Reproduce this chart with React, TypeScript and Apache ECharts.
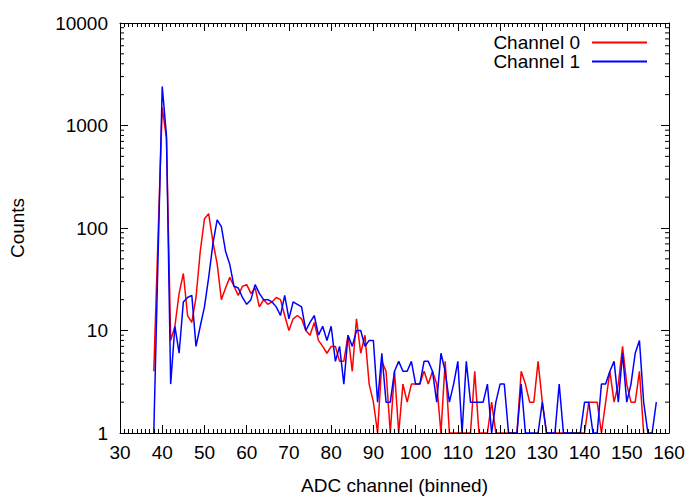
import React, { useEffect, useRef } from "react";
import * as echarts from "echarts";

// First ADC bin shown in both series
const binStart = 38;

// Channel 0 (red): counts for bins 38..154
const channel0: number[] = [
  4, 80, 1500, 750,
  8, 11, 23, 36, 14, 12, 21, 59, 123, 138,
  73, 45, 20, 26, 33, 27, 22, 27, 28, 23,
  26, 17, 20, 18, 19, 21, 20, 14, 10, 13,
  14, 13, 10, 9, 12, 8, 7, 6, 7, 7,
  5, 5, 9, 4, 13, 6, 9, 3, 2, 1,
  5, 4, 1, 4, 1, 3, 2, 3, 3, 3,
  4, 3, 4, 3, 1, 5, 1, 1, 1, 1,
  1, 1, 4, 1, 1, 1, 2, 1, 1, 1,
  1, 1, 1, 4, 3, 2, 2, 5, 2, 1,
  1, 1, 1, 1, 1, 1, 1, 1, 1, 2,
  2, 2, 1, 2, 4, 2, 3, 7, 3, 2,
  2, 4, 1,
];

// Channel 1 (blue): counts for bins 38..157
const channel1: number[] = [
  1, 50, 2400, 800,
  3, 11, 6, 19, 21, 22, 7, 11, 17, 33,
  70, 120, 103, 59, 44, 27, 26, 21, 18, 20,
  28, 23, 20, 20, 19, 17, 14, 22, 13, 19,
  18, 17, 10, 12, 14, 9, 11, 8, 11, 5,
  7, 3, 9, 7, 10, 10, 7, 8, 8, 2,
  6, 2, 2, 4, 5, 4, 4, 5, 3, 3,
  5, 5, 4, 2, 6, 4, 2, 3, 5, 1,
  5, 2, 2, 2, 2, 3, 1, 2, 3, 3,
  1, 1, 1, 3, 1, 1, 1, 1, 2, 1,
  1, 1, 3, 1, 1, 1, 1, 1, 2, 2,
  1, 1, 3, 3, 4, 5, 2, 6, 2, 3,
  6, 8, 2, 1, 1, 2,
];

const seriesNames = ["Channel 0", "Channel 1"];
const seriesColors = ["#ff0000", "#0000ff"];

// Axis ranges
const xMin = 30;
const xMax = 160;
const xStep = 10;
const yMin = 1;
const yMax = 10000;
// Log minor tick positions
const decades = [1, 10, 100, 1000];
const minorMultipliers = [2, 3, 4, 5, 6, 7, 8, 9];

const FONT = "'Liberation Sans', Arial, Helvetica, sans-serif";

export default function App() {
  const ref = useRef<HTMLDivElement>(null);

  useEffect(() => {
    if (!ref.current) return;
    document.body.style.margin = "0";
    const chart = echarts.init(ref.current, null, { renderer: "svg" });

    const toPairs = (arr: number[]) => arr.map((v, i) => [binStart + i, v]);

    const lineStyleBlack = { color: "#000", width: 1 };
    const majorLen = 8;
    const minorLen = 4;

    const xBase = {
      type: "value",
      min: xMin,
      max: xMax,
      interval: xStep,
      axisLine: { show: true, onZero: false, lineStyle: lineStyleBlack },
      axisTick: { show: true, inside: true, length: majorLen, lineStyle: lineStyleBlack },
      minorTick: { show: true, splitNumber: 10, length: minorLen, lineStyle: lineStyleBlack },
      splitLine: { show: false },
      minorSplitLine: { show: false },
      z: 3,
    };

    const yBase = {
      type: "log",
      logBase: 10,
      min: yMin,
      max: yMax,
      axisLine: { show: true, onZero: false, lineStyle: lineStyleBlack },
      axisTick: { show: true, inside: true, length: majorLen, lineStyle: lineStyleBlack },
      splitLine: { show: false },
      z: 3,
    };

    chart.setOption({
      animation: false,
      backgroundColor: "#fff",
      grid: { left: 119, right: 31, top: 23, bottom: 64 },
      legend: {
        data: seriesNames.map((n) => ({ name: n, icon: "rect" })),
        orient: "vertical",
        right: 48,
        top: 28,
        align: "right",
        itemWidth: 55,
        itemHeight: 2,
        itemGap: 0,
        textStyle: {
          fontFamily: FONT,
          fontSize: 19,
          color: "#000",
          lineHeight: 19,
          padding: [0, 7, 0, 0],
        },
      },
      xAxis: [
        {
          ...xBase,
          position: "bottom",
          name: "ADC channel (binned)",
          nameLocation: "middle",
          nameGap: 43,
          nameTextStyle: { fontFamily: FONT, fontSize: 19, color: "#000" },
          axisLabel: { fontFamily: FONT, fontSize: 19, color: "#000", margin: 10 },
        },
        {
          ...xBase,
          position: "top",
          axisLabel: { show: false },
        },
      ],
      yAxis: [
        {
          ...yBase,
          position: "left",
          name: "Counts",
          nameLocation: "middle",
          nameGap: 93,
          nameRotate: 90,
          nameTextStyle: { fontFamily: FONT, fontSize: 19, color: "#000" },
          axisLabel: {
            fontFamily: FONT,
            fontSize: 19,
            color: "#000",
            margin: 12,
            formatter: (v: number) => String(Math.round(v)),
          },
        },
        {
          ...yBase,
          position: "right",
          axisLabel: { show: false },
        },
      ],
      series: [
        {
          name: seriesNames[0],
          type: "line",
          data: toPairs(channel0),
          symbol: "none",
          showSymbol: false,
          color: seriesColors[0],
          itemStyle: { color: seriesColors[0] },
          lineStyle: { color: seriesColors[0], width: 1.5 },
          clip: true,
          z: 2,
        },
        {
          name: seriesNames[1],
          type: "line",
          data: toPairs(channel1),
          symbol: "none",
          showSymbol: false,
          color: seriesColors[1],
          itemStyle: { color: seriesColors[1] },
          lineStyle: { color: seriesColors[1], width: 1.5 },
          clip: true,
          z: 2,
        },
      ],
    });

    // Log-spaced minor ticks on both vertical borders, placed through the axis scale
    const xl = chart.convertToPixel({ xAxisIndex: 0 }, xMin) as number;
    const xr = chart.convertToPixel({ xAxisIndex: 0 }, xMax) as number;
    const els: any[] = [];
    decades.forEach((base) => {
      minorMultipliers.forEach((k) => {
        const y = chart.convertToPixel({ yAxisIndex: 0 }, base * k) as number;
        els.push({
          type: "line",
          shape: { x1: xl, y1: y, x2: xl + minorLen, y2: y },
          style: { stroke: "#000", lineWidth: 1 },
          z: 10,
        });
        els.push({
          type: "line",
          shape: { x1: xr - minorLen, y1: y, x2: xr, y2: y },
          style: { stroke: "#000", lineWidth: 1 },
          z: 10,
        });
      });
    });
    chart.setOption({ graphic: els });

    return () => chart.dispose();
  }, []);

  return <div ref={ref} style={{ width: 700, height: 500 }} />;
}
